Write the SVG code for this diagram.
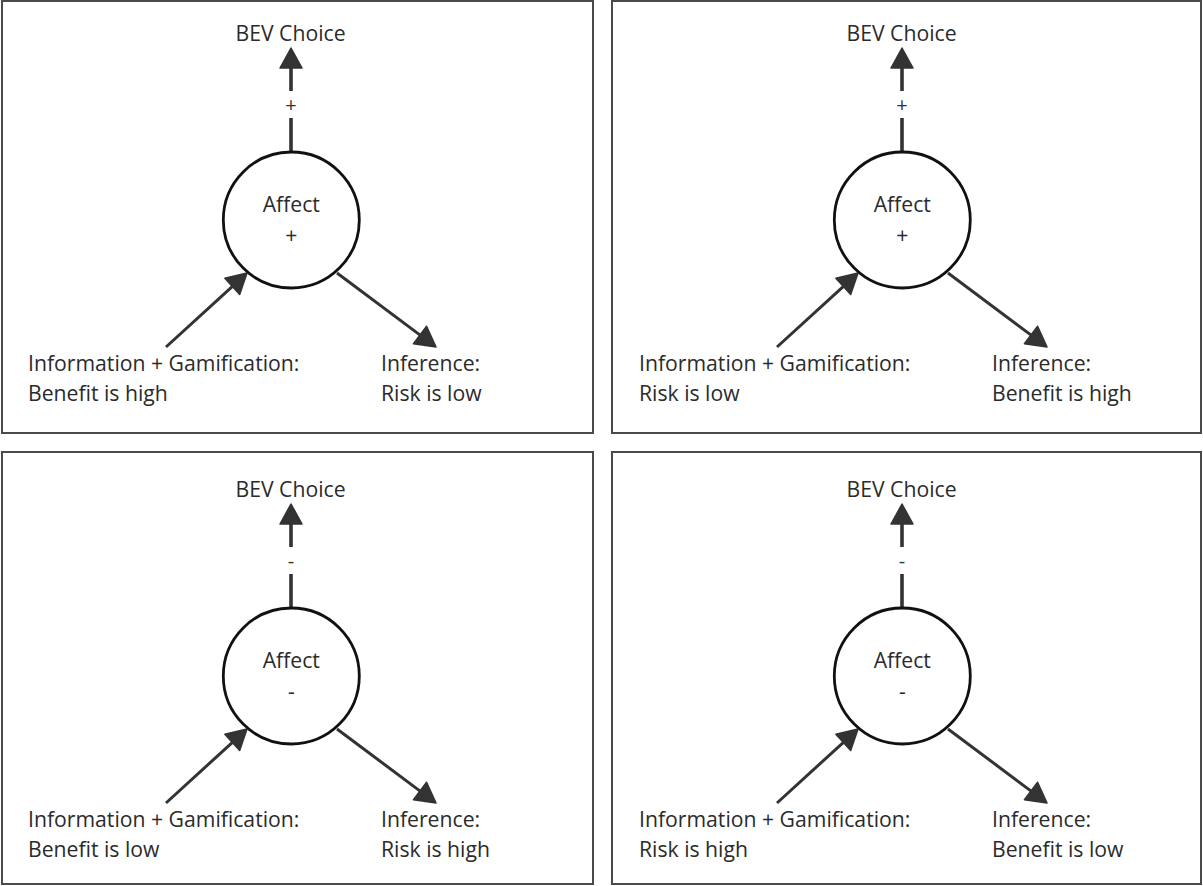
<svg xmlns="http://www.w3.org/2000/svg" width="1203" height="886" viewBox="0 0 1203 886">
  <style>
    .frame { fill: #ffffff; stroke: #4a4a4a; stroke-width: 2; }
    .node { fill: #ffffff; stroke: #111111; stroke-width: 2.8; }
    .lbl { font-family: "Open Sans", "Liberation Sans", sans-serif; font-size: 21.2px; fill: #2b2b2b; }
    .mid { text-anchor: middle; }
    .sign { font-family: "Open Sans", "Liberation Sans", sans-serif; font-size: 20px; fill: #333333; text-anchor: middle; }
    .edge { fill: none; stroke: #333333; stroke-width: 3; }
    .edge-v { fill: none; stroke: #333333; stroke-width: 3.6; }
  </style>
  <defs>
    <marker id="head" markerUnits="userSpaceOnUse" markerWidth="24" markerHeight="26" refX="0" refY="0" orient="auto" overflow="visible">
      <path d="M-1,-11 L19,0 L-1,11 Z" fill="#333333" stroke="#333333" stroke-width="1.5" stroke-linejoin="round"/>
    </marker>
  </defs>

  <rect width="1203" height="886" fill="#ffffff"/>

  <!-- panel frames -->
  <g id="frames">
    <rect class="frame" x="2" y="1" width="591" height="432"/>
    <rect class="frame" x="612" y="1" width="589" height="432"/>
    <rect class="frame" x="2" y="452" width="591" height="432"/>
    <rect class="frame" x="612" y="452" width="589" height="432"/>
  </g>

  <!-- connectors -->
  <g id="connectors">
    <!-- top-left -->
    <line class="edge-v" x1="291" y1="152" x2="291" y2="118"/>
    <line class="edge-v" x1="291" y1="91" x2="291" y2="67" marker-end="url(#head)"/>
    <line class="edge" x1="166" y1="347" x2="233" y2="285.8" marker-end="url(#head)"/>
    <line class="edge" x1="337" y1="273" x2="420.8" y2="335.6" marker-end="url(#head)"/>
    <!-- top-right -->
    <line class="edge-v" x1="902" y1="152" x2="902" y2="118"/>
    <line class="edge-v" x1="902" y1="91" x2="902" y2="67" marker-end="url(#head)"/>
    <line class="edge" x1="777" y1="347" x2="844" y2="285.8" marker-end="url(#head)"/>
    <line class="edge" x1="948" y1="273" x2="1031.8" y2="335.6" marker-end="url(#head)"/>
    <!-- bottom-left -->
    <line class="edge-v" x1="291" y1="608" x2="291" y2="574"/>
    <line class="edge-v" x1="291" y1="547" x2="291" y2="523" marker-end="url(#head)"/>
    <line class="edge" x1="166" y1="803" x2="233" y2="741.8" marker-end="url(#head)"/>
    <line class="edge" x1="337" y1="729" x2="420.8" y2="791.6" marker-end="url(#head)"/>
    <!-- bottom-right -->
    <line class="edge-v" x1="902" y1="608" x2="902" y2="574"/>
    <line class="edge-v" x1="902" y1="547" x2="902" y2="523" marker-end="url(#head)"/>
    <line class="edge" x1="777" y1="803" x2="844" y2="741.8" marker-end="url(#head)"/>
    <line class="edge" x1="948" y1="729" x2="1031.8" y2="791.6" marker-end="url(#head)"/>
  </g>

  <!-- edge signs -->
  <g id="signs">
    <text class="sign" x="291" y="112">+</text>
    <text class="sign" x="902" y="112">+</text>
    <text class="sign" x="291" y="568">-</text>
    <text class="sign" x="902" y="568">-</text>
  </g>

  <!-- top-left panel -->
  <g id="tl-choice"><text class="lbl mid" x="290.5" y="41">BEV Choice</text></g>
  <g id="tl-affect">
    <circle class="node" cx="291.3" cy="220" r="68"/>
    <text class="lbl mid" x="291.3" y="212">Affect</text>
    <text class="lbl mid" x="291.3" y="243">+</text>
  </g>
  <g id="tl-info">
    <text class="lbl" x="28" y="371">Information + Gamification:</text>
    <text class="lbl" x="28" y="401">Benefit is high</text>
  </g>
  <g id="tl-inference">
    <text class="lbl" x="381" y="371">Inference:</text>
    <text class="lbl" x="381" y="401">Risk is low</text>
  </g>

  <!-- top-right panel -->
  <g id="tr-choice"><text class="lbl mid" x="901.5" y="41">BEV Choice</text></g>
  <g id="tr-affect">
    <circle class="node" cx="902.3" cy="220" r="68"/>
    <text class="lbl mid" x="902.3" y="212">Affect</text>
    <text class="lbl mid" x="902.3" y="243">+</text>
  </g>
  <g id="tr-info">
    <text class="lbl" x="639" y="371">Information + Gamification:</text>
    <text class="lbl" x="639" y="401">Risk is low</text>
  </g>
  <g id="tr-inference">
    <text class="lbl" x="992" y="371">Inference:</text>
    <text class="lbl" x="992" y="401">Benefit is high</text>
  </g>

  <!-- bottom-left panel -->
  <g id="bl-choice"><text class="lbl mid" x="290.5" y="497">BEV Choice</text></g>
  <g id="bl-affect">
    <circle class="node" cx="291.3" cy="676" r="68"/>
    <text class="lbl mid" x="291.3" y="668">Affect</text>
    <text class="lbl mid" x="291.3" y="699">-</text>
  </g>
  <g id="bl-info">
    <text class="lbl" x="28" y="827">Information + Gamification:</text>
    <text class="lbl" x="28" y="857">Benefit is low</text>
  </g>
  <g id="bl-inference">
    <text class="lbl" x="381" y="827">Inference:</text>
    <text class="lbl" x="381" y="857">Risk is high</text>
  </g>

  <!-- bottom-right panel -->
  <g id="br-choice"><text class="lbl mid" x="901.5" y="497">BEV Choice</text></g>
  <g id="br-affect">
    <circle class="node" cx="902.3" cy="676" r="68"/>
    <text class="lbl mid" x="902.3" y="668">Affect</text>
    <text class="lbl mid" x="902.3" y="699">-</text>
  </g>
  <g id="br-info">
    <text class="lbl" x="639" y="827">Information + Gamification:</text>
    <text class="lbl" x="639" y="857">Risk is high</text>
  </g>
  <g id="br-inference">
    <text class="lbl" x="992" y="827">Inference:</text>
    <text class="lbl" x="992" y="857">Benefit is low</text>
  </g>
</svg>
